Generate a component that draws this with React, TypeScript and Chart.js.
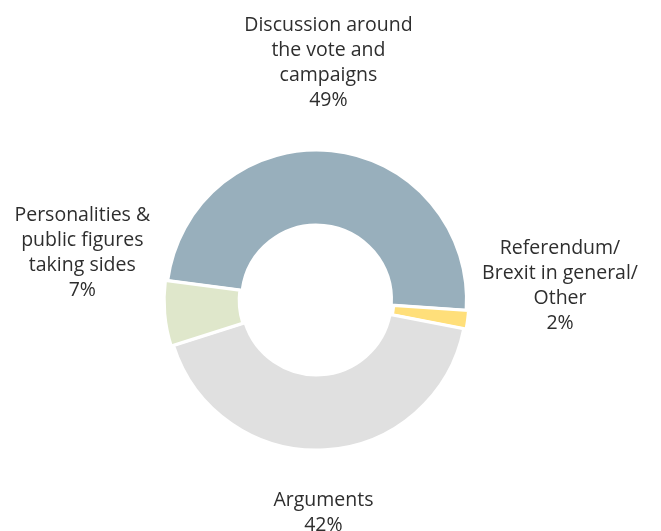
import React, { useEffect, useRef } from "react";
import { Chart, registerables } from "chart.js";

Chart.register(...registerables);

const categories: string[][] = [
  ["Discussion around", "the vote and", "campaigns"],
  ["Referendum/", "Brexit in general/", "Other"],
  ["Arguments"],
  ["Personalities &", "public figures", "taking sides"],
];
const values: number[] = [49, 2, 42, 7];
const colors: string[] = ["#98AFBC", "#FFDF7A", "#E0E0E0", "#DFE7CB"];
const sliceOffsets: number[] = [0, 5, 0, 6];

const FONT = "400 19.5px 'Open Sans', Roboto, sans-serif";
const LINE_H = 25;

const labelPlugin = {
  id: "outerLabels",
  afterDatasetsDraw(chart: any) {
    const meta = chart.getDatasetMeta(0);
    const ctx = chart.ctx as any;
    ctx.save();
    ctx.font = FONT;
    ctx.fillStyle = "#2e2e2e";
    ctx.textAlign = "center";
    ctx.textBaseline = "middle";
    meta.data.forEach((arc: any, i: number) => {
      const p = arc.getProps(["x", "y", "startAngle", "endAngle", "outerRadius"], true);
      const mid = (p.startAngle + p.endAngle) / 2;
      const dx = Math.cos(mid);
      const dy = Math.sin(mid);
      const lines = [...categories[i], values[i] + "%"];
      const w = Math.max(...lines.map((l: string) => ctx.measureText(l).width));
      const h = lines.length * LINE_H;
      let cx: number;
      let top: number;
      if (Math.abs(dx) > 0.7) {
        const r = p.outerRadius + 17;
        cx = p.x + dx * r + Math.sign(dx) * (w / 2);
        // vertical anchor: the upper edge of the slice
        const upper = Math.min(Math.sin(p.startAngle), Math.sin(p.endAngle));
        const py = p.y + upper * r;
        top = py + 25 - h;
      } else {
        const r = p.outerRadius + 38;
        cx = p.x + dx * 120;
        const py = p.y + dy * r;
        top = dy < 0 ? py - h : py;
      }
      lines.forEach((l: string, k: number) => ctx.fillText(l, cx, top + LINE_H * k + LINE_H / 2));
    });
    ctx.restore();
  },
};

export default function App() {
  const ref = useRef<HTMLCanvasElement | null>(null);
  useEffect(() => {
    if (!ref.current) return;
    const chart = new Chart(ref.current, {
      type: "doughnut",
      data: {
        labels: categories.map((c) => c.join(" ")),
        datasets: [
          {
            data: values,
            backgroundColor: colors,
            borderColor: "#ffffff",
            borderWidth: 3,
            offset: sliceOffsets,
          },
        ],
      },
      options: {
        responsive: false,
        animation: false,
        events: [],
        rotation: -82.5,
        cutout: "50%",
        radius: 150,
        layout: { padding: { left: 0, right: 28, top: 69, bottom: 0 } },
        plugins: {
          legend: { display: false },
          tooltip: { enabled: false },
        },
      },
      plugins: [labelPlugin],
    });
    return () => chart.destroy();
  }, []);
  return (
    <div style={{ position: "fixed", left: 0, top: 0, width: 661, height: 531, background: "#fff" }}>
      <canvas ref={ref} width={661} height={531} />
    </div>
  );
}
